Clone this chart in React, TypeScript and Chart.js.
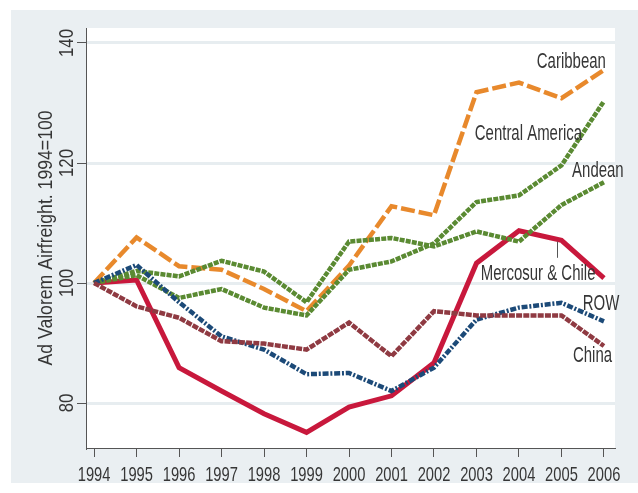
import React, { useEffect, useRef } from "react";
import { Chart, registerables } from "chart.js";

Chart.register(...registerables);

const years = [1994, 1995, 1996, 1997, 1998, 1999, 2000, 2001, 2002, 2003, 2004, 2005, 2006];
const caribbean = [100, 107.6, 102.8, 102.2, 99.0, 95.3, 102.9, 112.8, 111.3, 131.8, 133.4, 130.8, 135.5];
const centralAmerica = [100, 101.3, 97.5, 99.0, 95.9, 94.6, 102.2, 103.6, 106.6, 113.5, 114.6, 119.6, 130.3];
const andean = [100, 102.0, 101.1, 103.7, 101.9, 96.8, 106.9, 107.5, 106.1, 108.6, 106.9, 113.0, 116.8];
const mercosurChile = [100, 100.5, 85.9, 82.0, 78.2, 75.1, 79.3, 81.2, 86.7, 103.3, 108.7, 107.1, 100.8];
const rowSeries = [100, 103.0, 96.8, 91.1, 88.9, 84.8, 85.0, 82.0, 85.9, 93.9, 95.9, 96.7, 93.6];
const china = [100, 96.1, 94.2, 90.3, 89.9, 88.9, 93.4, 87.8, 95.3, 94.6, 94.6, 94.6, 89.5];
const yTicks = [80, 100, 120, 140];
const yTitle = "Ad Valorem Airfreight. 1994=100";

// series labels: text, anchor year (left edge), anchor value (baseline)
const labelNames = ["Caribbean", "Central America", "Andean", "Mercosur & Chile", "ROW", "China"];
const labelYears = [2004.42, 2002.96, 2005.25, 2003.1, 2005.5, 2005.27];
const labelValues = [135.9, 123.8, 117.75, 100.5, 95.5, 86.9];
// leader line for Mercosur & Chile
const leaderYear = 2004.9;
const leaderFrom = 106.9;
const leaderTo = 104.2;

const FONT = '"Liberation Sans", Arial, sans-serif';
const TEXT = "#363636";

const toPoints = (vals: number[]) => vals.map((v, i) => ({ x: years[i], y: v }));

function drawText(
  ctx: CanvasRenderingContext2D,
  text: string,
  x: number,
  y: number,
  size: number,
  k: number,
  rot: number,
  align: CanvasTextAlign,
  baseline: CanvasTextBaseline
) {
  ctx.save();
  ctx.translate(x, y);
  if (rot) ctx.rotate(rot);
  ctx.scale(k, 1);
  ctx.font = `${size}px ${FONT}`;
  ctx.textAlign = align;
  ctx.textBaseline = baseline;
  ctx.fillStyle = TEXT;
  ctx.fillText(text, 0, 0);
  ctx.restore();
}

export default function App() {
  const ref = useRef<HTMLCanvasElement | null>(null);

  useEffect(() => {
    if (!ref.current) return;
    const bgPlugin = {
      id: "bg",
      beforeDraw(chart: any) {
        const { ctx, chartArea } = chart;
        ctx.save();
        ctx.fillStyle = "#ffffff";
        ctx.fillRect(0, 0, chart.width, chart.height);
        ctx.fillStyle = "#eaeff2";
        ctx.fillRect(11, 10, chart.width - 11, 473);
        ctx.fillStyle = "#ffffff";
        ctx.fillRect(chartArea.left, chartArea.top, chartArea.right - chartArea.left, chartArea.bottom - chartArea.top);
        ctx.restore();
      },
    };
    const textPlugin = {
      id: "texts",
      afterDraw(chart: any) {
        const { ctx, chartArea } = chart;
        const xs = chart.scales.x;
        const ys = chart.scales.y;
        // x tick labels
        years.forEach((yr) => {
          drawText(ctx, String(yr), xs.getPixelForValue(yr), chartArea.bottom + 33, 21, 0.7, 0, "center", "alphabetic");
        });
        // y tick labels, rotated
        yTicks.forEach((v) => {
          drawText(ctx, String(v), 73, ys.getPixelForValue(v), 21, 0.8, -Math.PI / 2, "center", "alphabetic");
        });
        // y title
        drawText(ctx, yTitle, 52, (chartArea.top + chartArea.bottom) / 2, 21, 0.84, -Math.PI / 2, "center", "alphabetic");
        // series labels
        labelNames.forEach((t, i) => {
          drawText(ctx, t, xs.getPixelForValue(labelYears[i]), ys.getPixelForValue(labelValues[i]), 22, 0.68, 0, "left", "alphabetic");
        });
        // leader line
        ctx.save();
        ctx.strokeStyle = "#555";
        ctx.lineWidth = 1;
        const lx = Math.round(xs.getPixelForValue(leaderYear)) + 0.5;
        ctx.beginPath();
        ctx.moveTo(lx, ys.getPixelForValue(leaderFrom));
        ctx.lineTo(lx, ys.getPixelForValue(leaderTo));
        ctx.stroke();
        ctx.restore();
      },
    };

    const common = { pointRadius: 0, borderWidth: 4.5, fill: false, tension: 0 };
    const chart = new Chart(ref.current, {
      type: "line",
      data: {
        datasets: [
          { ...common, label: "China", data: toPoints(china), borderColor: "#8f3a42", borderDash: [6, 1.2] },
          { ...common, label: "ROW", data: toPoints(rowSeries), borderColor: "#1c4a78", borderDash: [6, 1.8, 2, 1.8] },
          { ...common, label: "Andean", data: toPoints(andean), borderColor: "#5a8a32", borderDash: [5, 1.2] },
          { ...common, label: "Central America", data: toPoints(centralAmerica), borderColor: "#5a8a32", borderDash: [5, 1.2] },
          { ...common, label: "Caribbean", data: toPoints(caribbean), borderColor: "#e8892c", borderDash: [14, 4] },
          { ...common, label: "Mercosur & Chile", data: toPoints(mercosurChile), borderColor: "#c8183c", borderWidth: 5 },
        ],
      },
      options: {
        responsive: false,
        animation: false,
        devicePixelRatio: 1,
        layout: { padding: { top: 28, right: 23, left: 0, bottom: 0 } },
        plugins: { legend: { display: false }, tooltip: { enabled: false } },
        scales: {
          x: {
            type: "linear",
            min: 1993.81,
            max: 2006.26,
            afterBuildTicks: (s: any) => {
              s.ticks = years.map((v) => ({ value: v }));
            },
            afterFit: (s: any) => {
              s.height = 45;
            },
            grid: { drawOnChartArea: false, drawTicks: true, tickLength: 9, tickColor: "#555", tickWidth: 1 },
            border: { display: true, color: "#555", width: 1 },
            ticks: { display: false },
          },
          y: {
            type: "linear",
            min: 72.5,
            max: 142.5,
            afterBuildTicks: (s: any) => {
              s.ticks = yTicks.map((v) => ({ value: v }));
            },
            afterFit: (s: any) => {
              s.width = 86;
            },
            grid: { color: "#e7edf0", lineWidth: 3, drawTicks: true, tickLength: 9, tickColor: "#555", tickWidth: 1 },
            border: { display: true, color: "#555", width: 1 },
            ticks: { display: false },
          },
        },
      },
      plugins: [bgPlugin, textPlugin],
    });
    return () => chart.destroy();
  }, []);

  return (
    <div style={{ position: "absolute", left: 0, top: 0, width: 638, height: 493 }}>
      <canvas ref={ref} width={638} height={493} />
    </div>
  );
}
